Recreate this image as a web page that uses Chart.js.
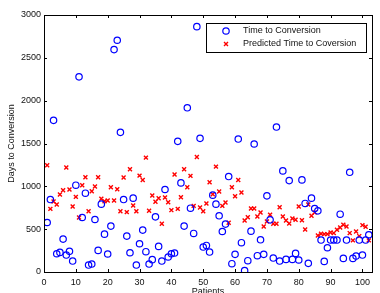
<!DOCTYPE html>
<html>
<head>
<meta charset="utf-8">
<script src="https://cdn.jsdelivr.net/npm/chart.js@4/dist/chart.umd.min.js"></script>
<style>
  html, body { margin: 0; padding: 0; background: #fff; }
  #wrap { width: 380px; height: 293px; }
</style>
</head>
<body>
<div id="wrap"><canvas id="chart" width="380" height="293"></canvas></div>
<script>
// data
const patients = [
  1,2,3,4,5,6,7,8,9,10, 11,12,13,14,15,16,17,18,19,20,
  21,22,23,24,25,26,27,28,29,30, 31,32,33,34,35,36,37,38,39,40,
  41,42,43,44,45,46,47,48,49,50, 51,52,53,54,55,56,57,58,59,60,
  61,62,63,64,65,66,67,68,69,70, 71,72,73,74,75,76,77,78,79,80,
  81,82,83,84,85,86,87,88,89,90, 91,92,93,94,95,96,97,98,99,100,
  101,102
];
const timeToConversion = [
  578,846,1770,213,229,384,198,241,128,1013,
  2278,636,920,81,93,613,252,792,442,210,
  536,2596,2705,1630,846,419,225,862,81,330,
  489,237,93,144,644,299,128,963,175,213,
  221,1525,1040,536,1917,745,450,2864,1560,291,
  310,233,897,792,656,473,559,1114,97,206,
  1552,342,16,132,477,1494,190,376,206,889,
  609,163,1692,128,1180,147,1067,147,217,140,
  1075,800,101,862,741,714,373,124,283,373,
  373,373,675,159,373,1164,159,186,373,198,
  373,435
];
const predictedTime = [
  1246,737,823,788,904,955,1219,963,765,877,
  636,1013,1106,710,943,997,1106,854,827,834,
  990,834,966,710,1102,699,1199,776,710,1125,
  1075,1335,714,893,819,862,563,869,815,722,
  1137,737,873,1199,990,1122,772,1343,753,710,
  800,1048,908,1230,939,772,811,574,990,885,
  1075,928,602,640,741,741,648,695,532,590,
  668,563,563,757,648,602,567,625,609,765,
  605,497,788,656,695,427,446,442,442,462,
  454,493,520,551,532,454,369,473,419,547,
  528,369
];
const xTicks = [0,10,20,30,40,50,60,70,80,90,100];
const yTicks = [0,500,1000,1500,2000,2500,3000];
const seriesNames = ["Time to Conversion", "Predicted Time to Coversion"];
const xTitle = "Patients";
const yTitle = "Days to Conversion";

const FONT = "Liberation Sans, Arial, Helvetica, sans-serif";
const BLUE = "#0000ff";
const RED = "#ff0000";

function pairs(xs, ys){ return xs.map((x,i)=>({x, y: ys[i]})); }

// matlab-ish frame: box, inward ticks on all sides, axis titles, legend
const matlabFrame = {
  id: "matlabFrame",
  afterDraw(chart){
    const ctx = chart.ctx;
    const a = chart.chartArea;
    const sx = chart.scales.x, sy = chart.scales.y;
    const tl = 3;
    ctx.save();
    ctx.strokeStyle = "#000";
    ctx.lineWidth = 1;
    ctx.beginPath();
    xTicks.forEach(v=>{
      const px = Math.round(sx.getPixelForValue(v)) + 0.5;
      ctx.moveTo(px, a.bottom); ctx.lineTo(px, a.bottom - tl);
      ctx.moveTo(px, a.top); ctx.lineTo(px, a.top + tl);
    });
    yTicks.forEach(v=>{
      const py = Math.round(sy.getPixelForValue(v)) + 0.5;
      ctx.moveTo(a.left, py); ctx.lineTo(a.left + tl, py);
      ctx.moveTo(a.right, py); ctx.lineTo(a.right - tl, py);
    });
    ctx.stroke();
    ctx.strokeRect(Math.round(a.left) + 0.5, Math.round(a.top) + 0.5,
                   Math.round(a.right - a.left), Math.round(a.bottom - a.top));

    // axis titles
    ctx.fillStyle = "#111";
    ctx.font = "9px " + FONT;
    ctx.textAlign = "center";
    ctx.textBaseline = "top";
    ctx.fillText(xTitle, (a.left + a.right) / 2, 287);
    ctx.save();
    ctx.translate(12, (a.top + a.bottom) / 2);
    ctx.rotate(-Math.PI / 2);
    ctx.textBaseline = "middle";
    ctx.fillText(yTitle, 0, 0);
    ctx.restore();

    // legend box in the upper right
    const lx = 206.5, ly = 23.5, lw = 160, lh = 29;
    ctx.fillStyle = "#fff";
    ctx.fillRect(lx, ly, lw, lh);
    ctx.strokeStyle = "#000";
    ctx.strokeRect(lx, ly, lw, lh);
    const ds = chart.data.datasets;
    [31, 44].forEach((yy, i)=>{
      const d = ds[i];
      ctx.save();
      ctx.lineWidth = d.borderWidth;
      ctx.strokeStyle = d.borderColor;
      ctx.fillStyle = d.backgroundColor;
      Chart.helpers.drawPoint(ctx, {pointStyle: d.pointStyle, radius: d.pointRadius, borderWidth: d.borderWidth}, 226, yy);
      ctx.restore();
      ctx.fillStyle = "#111";
      ctx.font = "9px " + FONT;
      ctx.textAlign = "left";
      ctx.textBaseline = "middle";
      ctx.fillText(d.label, 243, yy);
    });
    ctx.restore();
  }
};

new Chart(document.getElementById("chart"), {
  type: "scatter",
  data: {
    datasets: [
      {
        label: seriesNames[0],
        data: pairs(patients, timeToConversion),
        pointStyle: "circle",
        pointRadius: 3.2,
        borderWidth: 1.2,
        borderColor: BLUE,
        backgroundColor: "rgba(0,0,0,0)"
      },
      {
        label: seriesNames[1],
        data: pairs(patients, predictedTime),
        pointStyle: "crossRot",
        pointRadius: 2.8,
        borderWidth: 1.4,
        borderColor: RED,
        backgroundColor: RED
      }
    ]
  },
  options: {
    responsive: false,
    animation: false,
    devicePixelRatio: 1,
    layout: { padding: { left: 0, right: 8, top: 15, bottom: 0 } },
    plugins: { legend: { display: false }, tooltip: { enabled: false } },
    elements: { point: { hoverRadius: 3 } },
    scales: {
      x: {
        type: "linear",
        min: 0, max: 103,
        afterBuildTicks: s => { s.ticks = xTicks.map(v=>({value: v})); },
        afterFit: s => { s.height = 21; },
        grid: { display: false, drawTicks: false },
        border: { display: false },
        ticks: { color: "#111", font: { family: FONT, size: 9 }, padding: 5, maxRotation: 0,
                 callback: v => String(v) }
      },
      y: {
        type: "linear",
        min: 0, max: 3000,
        afterBuildTicks: s => { s.ticks = yTicks.map(v=>({value: v})); },
        afterFit: s => { s.width = 44; },
        grid: { display: false, drawTicks: false },
        border: { display: false },
        ticks: { color: "#111", font: { family: FONT, size: 9 }, padding: 3,
                 callback: v => String(v) }
      }
    }
  },
  plugins: [matlabFrame]
});
</script>
</body>
</html>
